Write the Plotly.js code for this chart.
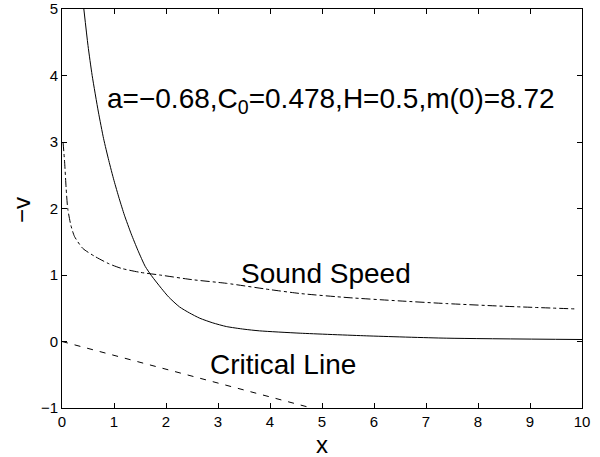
<!DOCTYPE html>
<html>
<head>
<meta charset="utf-8">
<script src="https://cdn.plot.ly/plotly-3.0.1.min.js"></script>
<style>html,body{margin:0;padding:0;background:#fff;}#chart{width:600px;height:457px;}</style>
</head>
<body>
<div id="chart"></div>
<script>
// Solid curve (-v)
const solidX = [0.42, 0.5, 0.58, 0.7, 0.8, 0.9, 1.0, 1.1, 1.2, 1.33, 1.46, 1.6, 1.72, 1.91, 2.05, 2.26, 2.45, 2.65, 2.9, 3.16, 3.5, 3.8, 4.58, 5.86, 7.4, 10];
const solidY = [5.0, 4.45, 4.0, 3.45, 3.05, 2.72, 2.42, 2.15, 1.9, 1.62, 1.37, 1.13, 0.99, 0.80, 0.67, 0.52, 0.43, 0.35, 0.28, 0.225, 0.185, 0.16, 0.125, 0.085, 0.05, 0.03];
// Sound speed (dash-dot)
const soundX = [0.02, 0.05, 0.08, 0.11, 0.17, 0.24, 0.4, 0.63, 0.9, 1.14, 1.5, 1.88, 2.5, 3.16, 4.0, 4.6, 5.5, 6.5, 7.4, 8.5, 9.87];
const soundY = [3.0, 2.7, 2.3, 2.0, 1.75, 1.58, 1.4, 1.28, 1.17, 1.10, 1.04, 1.0, 0.93, 0.875, 0.78, 0.72, 0.66, 0.61, 0.57, 0.53, 0.49];
// Critical line (dashed)
const critX = [0, 4.8];
const critY = [0, -1.0];

const xTicks = [0,1,2,3,4,5,6,7,8,9,10];
const yTicks = [-1,0,1,2,3,4,5];

const font = 'Liberation Sans, Arial, Helvetica, sans-serif';

const traces = [
  {x: solidX, y: solidY, mode: 'lines', line: {color: '#000', width: 1, shape: 'spline', smoothing: 0.6}, hoverinfo: 'none'},
  {x: soundX, y: soundY, mode: 'lines', line: {color: '#000', width: 1, dash: 'dashdot', shape: 'spline', smoothing: 0.6}, hoverinfo: 'none'},
  {x: critX, y: critY, mode: 'lines', line: {color: '#000', width: 1, dash: '6px,7px'}, hoverinfo: 'none'}
];

const axisCommon = {
  showgrid: false, zeroline: false, showline: true, linecolor: '#000', linewidth: 1,
  mirror: 'ticks', ticks: 'inside', ticklen: 5, tickcolor: '#000', tickwidth: 1,
  tickfont: {family: font, size: 15, color: '#000'}
};

const layout = {
  width: 600, height: 457,
  margin: {l: 62, r: 18, t: 9, b: 49},
  paper_bgcolor: '#fff', plot_bgcolor: '#fff',
  showlegend: false,
  xaxis: Object.assign({}, axisCommon, {range: [0, 10], tickvals: xTicks, ticktext: xTicks.map(String)}),
  yaxis: Object.assign({}, axisCommon, {range: [-1, 5], tickvals: yTicks, ticktext: yTicks.map(v => v < 0 ? '\u2212' + Math.abs(v) : String(v))}),
  annotations: [
    {text: 'a=\u22120.68,C<sub>0</sub>=0.478,H=0.5,m(0)=8.72', x: 0.83, y: 3.62, xref: 'x', yref: 'y', xanchor: 'left', yanchor: 'middle', showarrow: false, font: {family: font, size: 28, color: '#000'}},
    {text: 'Sound Speed', x: 3.4, y: 1.03, xref: 'x', yref: 'y', xanchor: 'left', yanchor: 'middle', showarrow: false, font: {family: font, size: 28, color: '#000'}},
    {text: 'Critical Line', x: 2.8, y: -0.35, xref: 'x', yref: 'y', xanchor: 'left', yanchor: 'middle', showarrow: false, font: {family: font, size: 28, color: '#000'}},
    {text: 'x', x: 0, y: 0, xref: 'paper', yref: 'paper', xanchor: 'center', yanchor: 'middle', showarrow: false, borderpad: 0, font: {family: font, size: 24, color: '#000'}},
    {text: '\u2212v', x: 0, y: 0, xref: 'paper', yref: 'paper', xanchor: 'center', yanchor: 'middle', textangle: -90, showarrow: false, font: {family: font, size: 24, color: '#000'}}
  ]
};
// convert pixel positions for axis titles into paper coordinates
const pw = 600 - 62 - 18, ph = 457 - 9 - 49;
layout.annotations[3].x = (322 - 62) / pw; layout.annotations[3].y = (457 - 49 - 444) / ph;
layout.annotations[4].x = (21 - 62) / pw; layout.annotations[4].y = (457 - 49 - 210) / ph;

Plotly.newPlot('chart', traces, layout, {displayModeBar: false, staticPlot: true});
</script>
</body>
</html>
